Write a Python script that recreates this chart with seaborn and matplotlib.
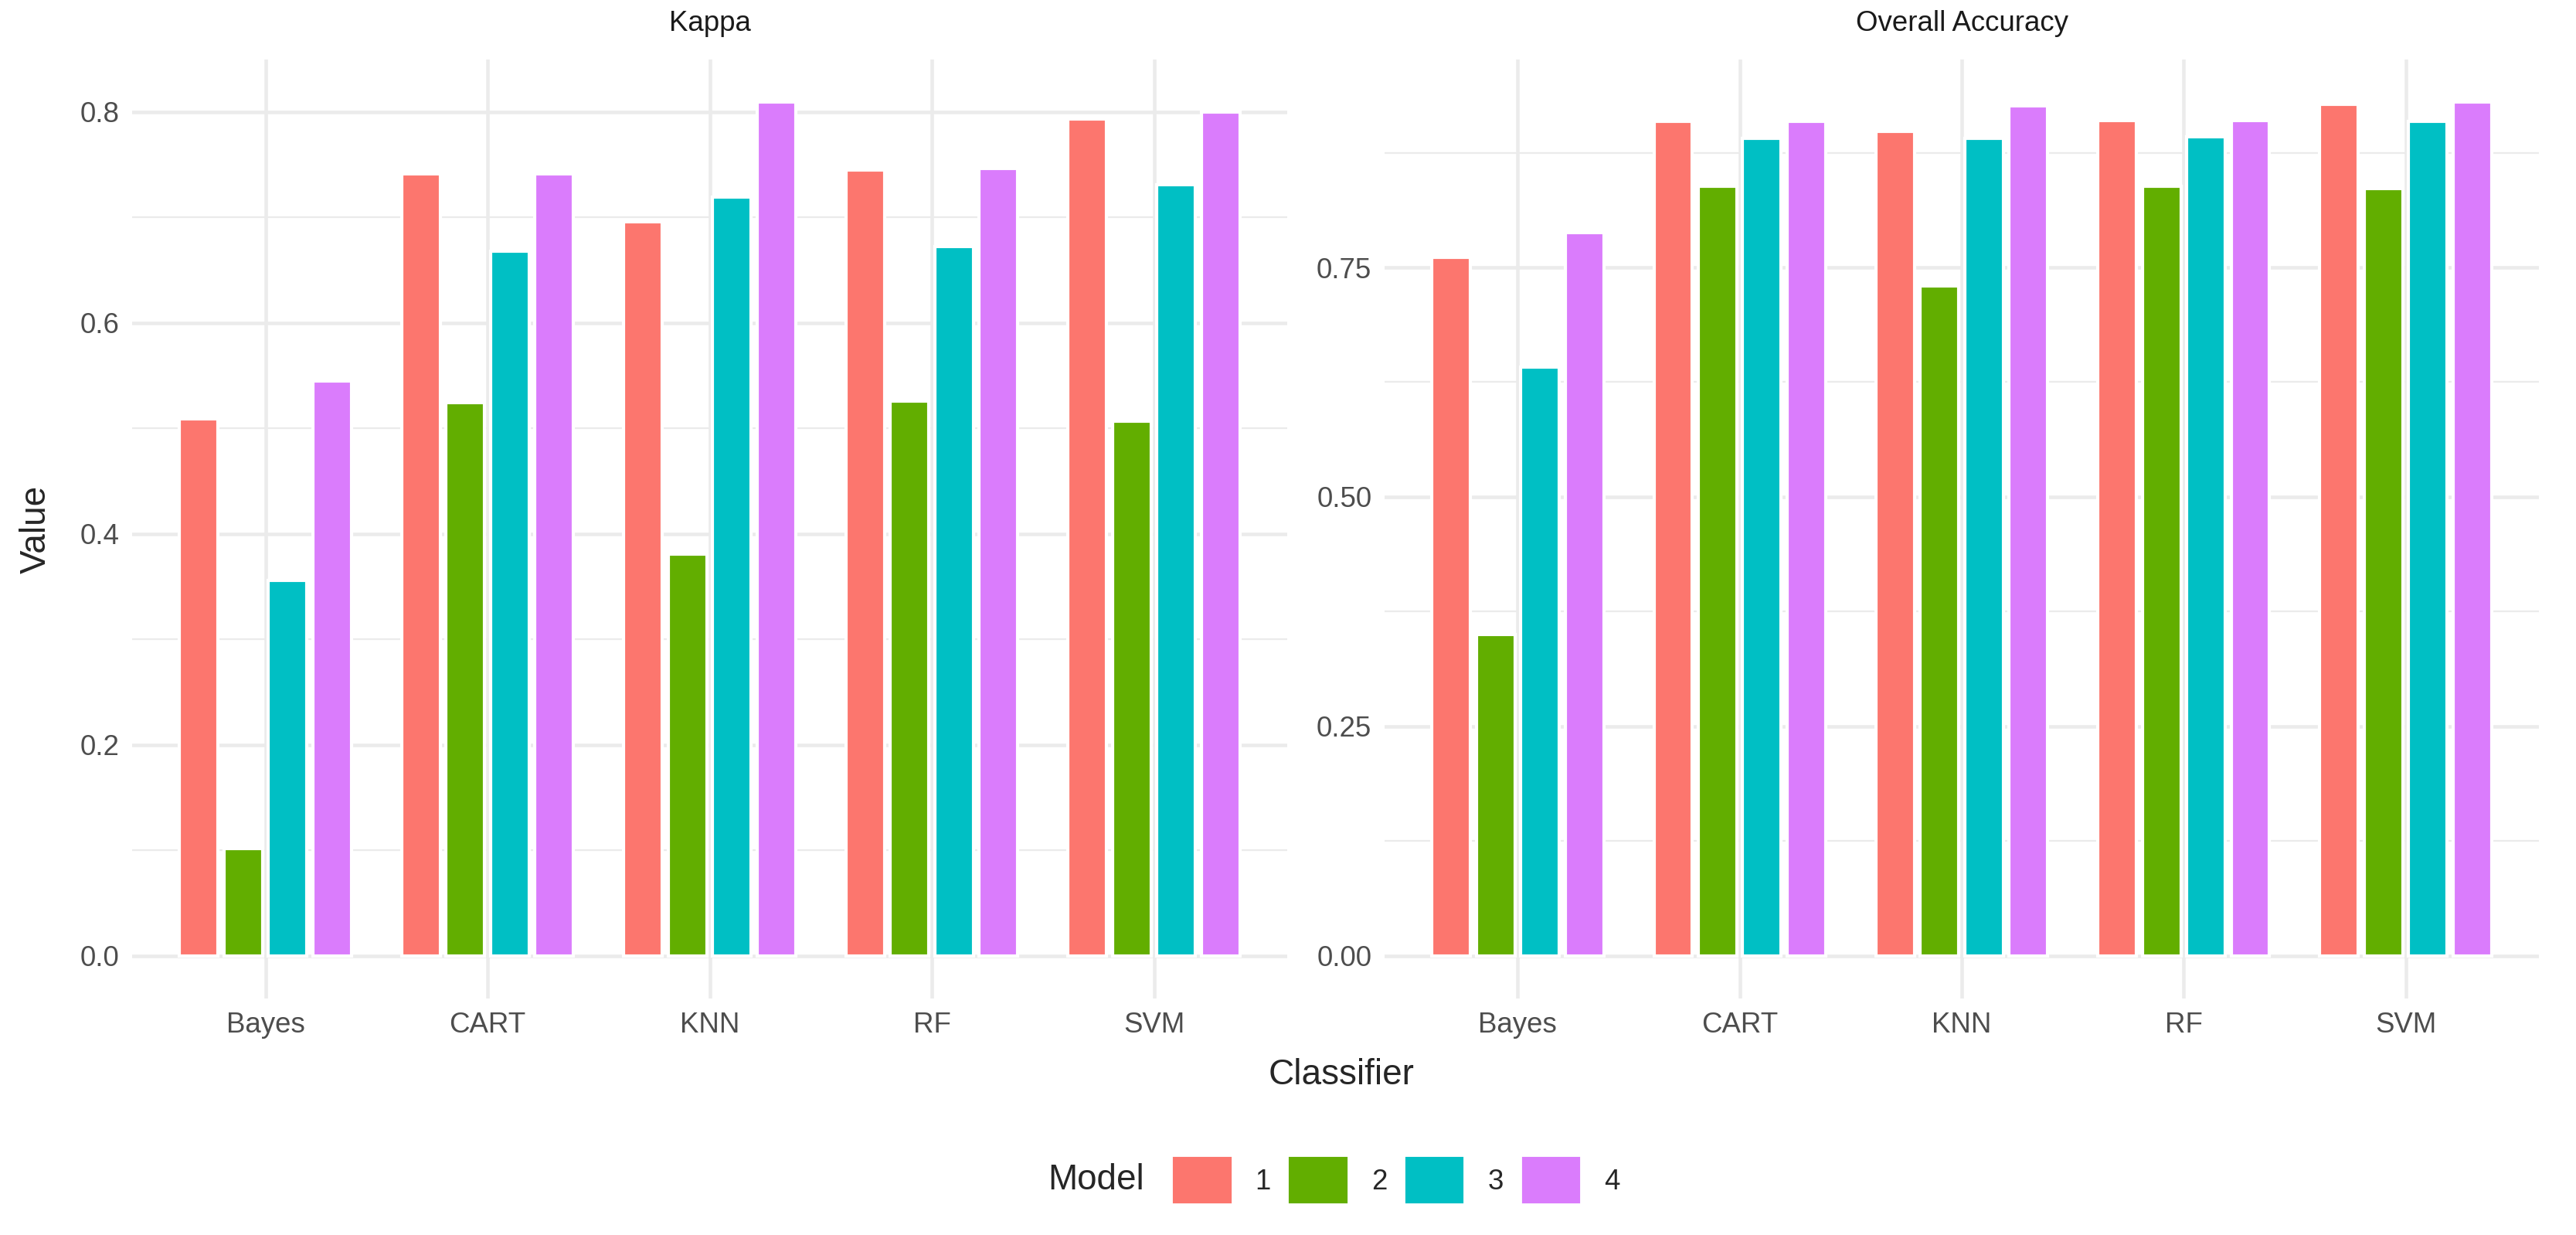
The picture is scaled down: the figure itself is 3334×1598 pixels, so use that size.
import pandas as pd
import numpy as np
import matplotlib
matplotlib.use('Agg')
import matplotlib.pyplot as plt
import matplotlib.patches as mpatches
import seaborn as sns

classifiers = ['Bayes', 'CART', 'KNN', 'RF', 'SVM']
models = ['1', '2', '3', '4']

# values per model, in classifier order
kappa = {
    '1': [0.509, 0.741, 0.696, 0.745, 0.793],
    '2': [0.102, 0.524, 0.381, 0.526, 0.507],
    '3': [0.356, 0.668, 0.719, 0.672, 0.731],
    '4': [0.545, 0.741, 0.809, 0.746, 0.800],
}
overall_accuracy = {
    '1': [0.761, 0.909, 0.898, 0.910, 0.928],
    '2': [0.350, 0.838, 0.730, 0.838, 0.836],
    '3': [0.641, 0.891, 0.891, 0.892, 0.909],
    '4': [0.788, 0.909, 0.926, 0.910, 0.930],
}
colors = ['#FC766E', '#62AE00', '#00BFC4', '#DA7CFC']


def to_long(d):
    rows = []
    for m in models:
        for c, v in zip(classifiers, d[m]):
            rows.append({'Classifier': c, 'Model': m, 'Value': v})
    return pd.DataFrame(rows)


sns.set_style('white')
plt.rcParams['font.family'] = ['Liberation Sans', 'DejaVu Sans']

fig = plt.figure(figsize=(3334 / 300, 1598 / 300), dpi=300)
ax1 = fig.add_axes([171 / 3334, 1 - 1292 / 1598, 1495 / 3334, 1215 / 1598])
ax2 = fig.add_axes([1792 / 3334, 1 - 1292 / 1598, 1494 / 3334, 1215 / 1598])

panels = [
    (ax1, kappa, 'Kappa', [0, 0.2, 0.4, 0.6, 0.8], ['0.0', '0.2', '0.4', '0.6', '0.8'], [0.1, 0.3, 0.5, 0.7]),
    (ax2, overall_accuracy, 'Overall Accuracy', [0, 0.25, 0.5, 0.75], ['0.00', '0.25', '0.50', '0.75'], [0.125, 0.375, 0.625, 0.875]),
]

for ax, data, title, ticks, labels, minor in panels:
    df = to_long(data)
    sns.barplot(data=df, x='Classifier', y='Value', hue='Model', order=classifiers,
                hue_order=models, palette=colors, width=0.8, gap=0.13,
                saturation=1, legend=False, ax=ax, zorder=3)
    vmax = df['Value'].max()
    ax.set_ylim(-0.05 * vmax, 1.05 * vmax)
    ax.set_xlim(-0.6, 4.6)
    ax.set_yticks(ticks)
    ax.set_yticklabels(labels)
    for y in ticks:
        ax.axhline(y, color='#EBEBEB', lw=1.1, zorder=0)
    for y in minor:
        ax.axhline(y, color='#EBEBEB', lw=0.55, zorder=0)
    for x in range(len(classifiers)):
        ax.axvline(x, color='#EBEBEB', lw=1.1, zorder=0)
    ax.tick_params(length=0, labelsize=8.8, labelcolor='#4D4D4D', pad=4)
    ax.set_xlabel('')
    ax.set_ylabel('')
    for s in ax.spines.values():
        s.set_visible(False)
    ax.set_title(title, fontsize=8.8, color='#1A1A1A', pad=9)

fig.text(47 / 3334, 1 - 685 / 1598, 'Value', rotation=90, fontsize=11, ha='center', va='center')
fig.text(1736 / 3334, 1 - 1391 / 1598, 'Classifier', fontsize=11, ha='center', va='center')

handles = [mpatches.Patch(color=c, label=m) for c, m in zip(colors, models)]
fig.text(1356 / 3334, 1 - 1527 / 1598, 'Model', fontsize=11, ha='left', va='center')
fig.legend(handles=handles, loc='center left', bbox_to_anchor=(1520 / 3334, 1 - 1527 / 1598),
           ncol=4, frameon=False, fontsize=8.8, handlelength=1.95, handleheight=1.95,
           handletextpad=0.9, columnspacing=0.7, borderpad=0, borderaxespad=0)

fig.savefig('out.png', dpi=300)
